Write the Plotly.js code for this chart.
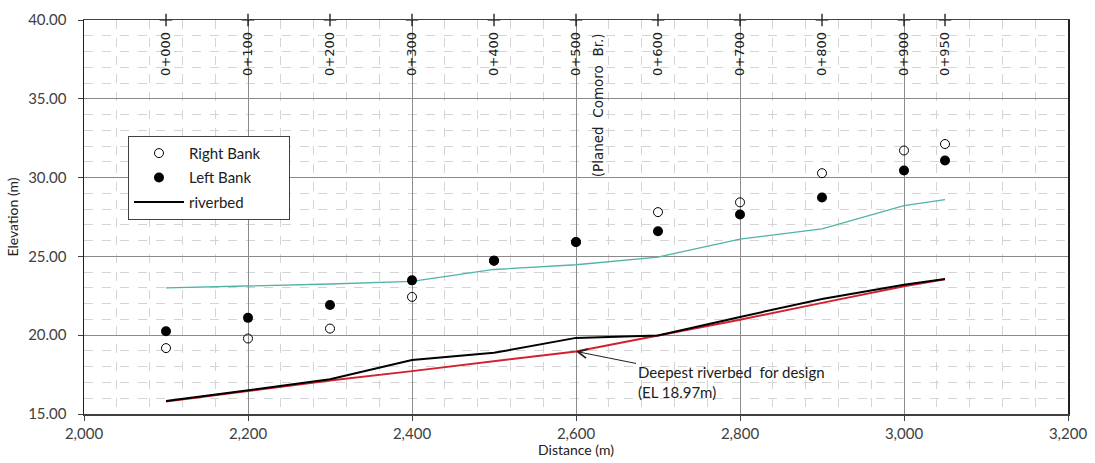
<!DOCTYPE html>
<html>
<head>
<meta charset="utf-8">
<script src="https://cdn.plot.ly/plotly-3.0.1.min.js"></script>
<style>
  html, body { margin: 0; padding: 0; background: #ffffff; }
  #chart { width: 1095px; height: 463px; }
</style>
</head>
<body>
<div id="chart"></div>
<script>
// ---- data ----
const stationX      = [2100, 2200, 2300, 2400, 2500, 2600, 2700, 2800, 2900, 3000, 3050];
const stationLabels = ['0+000', '0+100', '0+200', '0+300', '0+400', '0+500', '0+600', '0+700', '0+800', '0+900', '0+950'];
const rightBank     = [19.18, 19.79, 20.42, 22.43, 24.73, 25.91, 27.81, 28.43, 30.28, 31.72, 32.13];
const leftBank      = [20.25, 21.10, 21.92, 23.48, 24.73, 25.91, 26.60, 27.66, 28.74, 30.45, 31.09];
const riverbed      = [15.82, 16.50, 17.20, 18.42, 18.88, 19.83, 19.98, 21.16, 22.30, 23.20, 23.57];
const designBed     = [15.80, 16.48, 17.12, 17.72, 18.35, 18.97, 19.98, 20.98, 22.05, 23.10, 23.55];
const waterLevel    = [23.00, 23.12, 23.25, 23.42, 24.17, 24.47, 24.96, 26.10, 26.75, 28.22, 28.60];
const bridgeX       = 2627;
const bridgeLabel   = '(Planed  Comoro  Br.)';
const noteText      = 'Deepest riverbed  for design<br>(EL 18.97m)';
const noteX         = 2600;
const noteY         = 18.97;

const pad = '\u00a0\u00a0\u00a0\u00a0\u00a0\u00a0';
const tickFont = {family: 'Lato, "Liberation Sans", sans-serif', size: 15, color: '#404040'};
const labelFont = {family: '"DejaVu Sans", sans-serif', size: 13, color: '#202020'};

const traces = [
  { // cyan line
    x: stationX, y: waterLevel, type: 'scatter', mode: 'lines',
    line: {color: '#4fb3a6', width: 1.3}, showlegend: false, hoverinfo: 'skip'
  },
  { // design riverbed (red)
    x: stationX, y: designBed, type: 'scatter', mode: 'lines',
    line: {color: '#d2202c', width: 2}, showlegend: false
  },
  {
    x: stationX, y: riverbed, type: 'scatter', mode: 'lines', name: 'riverbed',
    line: {color: '#000000', width: 2}, legendgroup: 'c', legendrank: 3
  },
  {
    x: stationX, y: rightBank, type: 'scatter', mode: 'markers', name: 'Right Bank' + pad,
    marker: {symbol: 'circle-open', size: 9, color: '#000000', line: {width: 1, color: '#000000'}},
    legendgroup: 'a', legendrank: 1
  },
  {
    x: stationX, y: leftBank, type: 'scatter', mode: 'markers', name: 'Left Bank',
    marker: {symbol: 'circle', size: 10, color: '#000000'},
    legendgroup: 'b', legendrank: 2
  },
  { // station crosses on top border
    x: stationX, y: stationX.map(() => 40), type: 'scatter', mode: 'markers',
    marker: {symbol: 'cross-thin', size: 9, color: '#000000', line: {width: 1.2, color: '#000000'}},
    showlegend: false, cliponaxis: false, hoverinfo: 'skip'
  }
];

const annotations = stationX.map((sx, i) => ({
  x: sx, y: 37.85, xref: 'x', yref: 'y', text: stationLabels[i],
  textangle: -90, showarrow: false, font: labelFont
}));
annotations.push({
  x: bridgeX, y: 34.6, xref: 'x', yref: 'y', text: bridgeLabel,
  textangle: -90, showarrow: false, font: {family: '"DejaVu Sans", sans-serif', size: 13.5, color: '#202020'}
});
annotations.push({
  x: noteX, y: noteY, xref: 'x', yref: 'y', text: noteText, align: 'left',
  showarrow: true, arrowhead: 5, arrowsize: 1.8, arrowwidth: 1, arrowcolor: '#202020',
  ax: 155, ay: 31, font: {family: 'Lato, "Liberation Sans", sans-serif', size: 15, color: '#202020'}
});

const layout = {
  width: 1095, height: 463,
  margin: {l: 84, r: 27, t: 20, b: 49, pad: 0},
  paper_bgcolor: '#ffffff', plot_bgcolor: '#ffffff',
  showlegend: true,
  legend: {
    x: 0.0447, y: 0.706, xanchor: 'left', yanchor: 'top',
    bgcolor: '#ffffff', bordercolor: '#404040', borderwidth: 1,
    font: {family: 'Lato, "Liberation Sans", sans-serif', size: 15, color: '#202020'},
    traceorder: 'grouped', tracegroupgap: 2, itemwidth: 50
  },
  xaxis: {
    range: [2000, 3200], dtick: 200, tick0: 2000, tickformat: ',d',
    showgrid: true, gridcolor: '#8a8a8a', gridwidth: 1,
    minor: {dtick: 40, showgrid: true, gridcolor: '#d4d4d4', griddash: 'dash', gridwidth: 1},
    zeroline: false, showline: true, linecolor: '#404040', linewidth: 1.5, mirror: true,
    ticks: 'outside', ticklen: 5, tickcolor: '#404040',
    tickfont: tickFont,
    title: {text: 'Distance (m)', font: {family: 'Lato, "Liberation Sans", sans-serif', size: 14, color: '#202020'}, standoff: 4}
  },
  yaxis: {
    range: [15, 40], dtick: 5, tick0: 15, tickformat: '.2f',
    showgrid: true, gridcolor: '#8a8a8a', gridwidth: 1,
    minor: {dtick: 1, showgrid: true, gridcolor: '#d4d4d4', griddash: 'dash', gridwidth: 1},
    zeroline: false, showline: true, linecolor: '#202020', linewidth: 1.5, mirror: true,
    ticks: 'outside', ticklen: 5, tickcolor: '#404040', ticklabelstandoff: 8,
    tickfont: tickFont,
    title: {text: 'Elevation (m)', font: {family: 'Lato, "Liberation Sans", sans-serif', size: 14, color: '#202020'}, standoff: 6}
  },
  annotations: annotations
};

Plotly.newPlot('chart', traces, layout, {displayModeBar: false, staticPlot: true});
</script>
</body>
</html>
